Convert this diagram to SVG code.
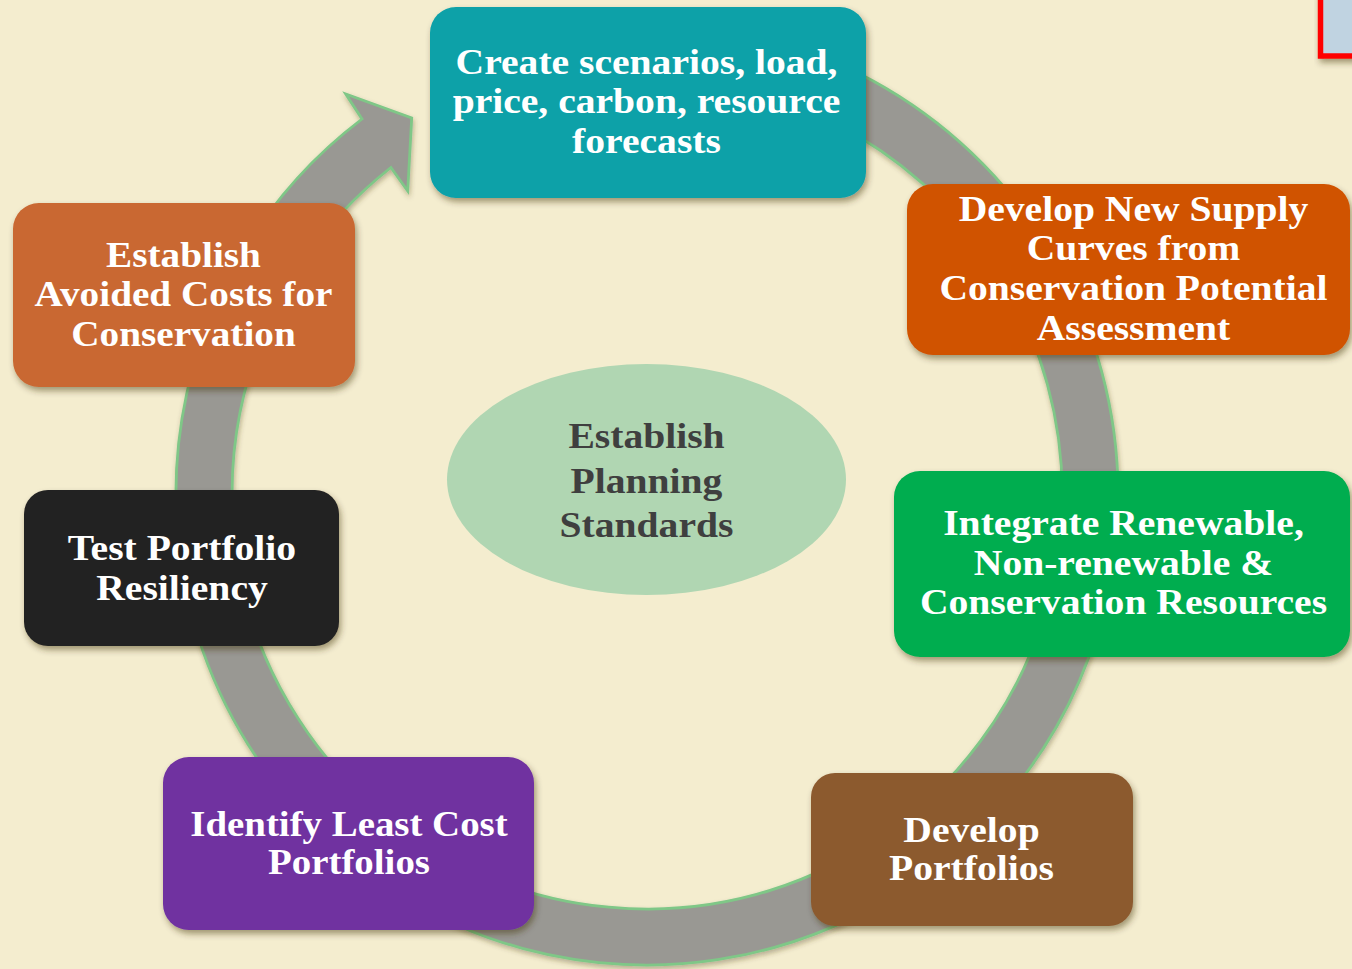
<svg xmlns="http://www.w3.org/2000/svg" width="1352" height="969" viewBox="0 0 1352 969">
  <defs>
    <filter id="shadow" x="-10%" y="-10%" width="125%" height="130%">
      <feDropShadow dx="2" dy="4" stdDeviation="3" flood-color="#3a2a10" flood-opacity="0.45"/>
    </filter>
    <filter id="ringShadow" x="-10%" y="-10%" width="125%" height="125%">
      <feDropShadow dx="1" dy="3" stdDeviation="2.5" flood-color="#4a3a20" flood-opacity="0.35"/>
    </filter>
  </defs>
  <style>
    .box { filter: url(#shadow); }
    .lbl { font-family: "Liberation Serif", "Times New Roman", serif; font-weight: bold; font-size: 36px; fill: #ffffff; text-anchor: middle; }
    .mid { fill: #3f3f3f; }
    .ring { fill: #999893; stroke: #7fc787; stroke-width: 2.8; stroke-linejoin: miter; filter: url(#ringShadow); }
  </style>

  <!-- background -->
  <rect x="0" y="0" width="1352" height="969" fill="#f4edcf"/>

  <!-- corner frame, clipped by the page edge -->
  <rect x="1320.5" y="-10" width="60" height="66" fill="#c0d3e1" stroke="#ff0000" stroke-width="5.5" filter="url(#shadow)"/>

  <!-- connectors: one circular arrow running clockwise back into the first step -->
  <g id="connectors">
    <path class="ring" d="M565.2,30.2 A471,471 0 1 1 362,119 L345.7,94 L411.7,118 L407.7,191 L390.9,167.5 A415,415 0 1 0 574.9,85.3 Z"/>
  </g>

  <!-- centre -->
  <g id="node-standards">
    <ellipse cx="646.5" cy="479.5" rx="199.5" ry="115.5" fill="#b0d6b2"/>
    <g transform="translate(646.5 0) scale(1.1 1)">
      <text class="lbl mid" x="0" y="448">Establish</text>
      <text class="lbl mid" x="0" y="493">Planning</text>
      <text class="lbl mid" x="0" y="537">Standards</text>
    </g>
  </g>

  <g id="node-forecasts">
    <rect class="box" x="430" y="7" width="436" height="191" rx="26" fill="#0aa1a8"/>
    <g transform="translate(646.5 0) scale(1.1 1)">
      <text class="lbl" x="0" y="74">Create scenarios, load,</text>
      <text class="lbl" x="0" y="113.5">price, carbon, resource</text>
      <text class="lbl" x="0" y="153">forecasts</text>
    </g>
  </g>

  <g id="node-supply-curves">
    <rect class="box" x="907" y="184" width="443" height="171" rx="26" fill="#d05305"/>
    <g transform="translate(1133.5 0) scale(1.1 1)">
      <text class="lbl" x="0" y="221">Develop New Supply</text>
      <text class="lbl" x="0" y="260.5">Curves from</text>
      <text class="lbl" x="0" y="300">Conservation Potential</text>
      <text class="lbl" x="0" y="340">Assessment</text>
    </g>
  </g>

  <g id="node-integrate">
    <rect class="box" x="894" y="471" width="456" height="186" rx="26" fill="#00ad4f"/>
    <g transform="translate(1123.5 0) scale(1.1 1)">
      <text class="lbl" x="0" y="535.5">Integrate Renewable,</text>
      <text class="lbl" x="0" y="575">Non-renewable &amp;</text>
      <text class="lbl" x="0" y="614">Conservation Resources</text>
    </g>
  </g>

  <g id="node-develop-portfolios">
    <rect class="box" x="811" y="773" width="322" height="153" rx="24" fill="#8c5a2f"/>
    <g transform="translate(971.5 0) scale(1.1 1)">
      <text class="lbl" x="0" y="842">Develop</text>
      <text class="lbl" x="0" y="880.5">Portfolios</text>
    </g>
  </g>

  <g id="node-least-cost">
    <rect class="box" x="163" y="757" width="371" height="173" rx="26" fill="#7030a0"/>
    <g transform="translate(349 0) scale(1.08 1)">
      <text class="lbl" x="0" y="835.5">Identify Least Cost</text>
      <text class="lbl" x="0" y="874.5">Portfolios</text>
    </g>
  </g>

  <g id="node-resiliency">
    <rect class="box" x="24" y="490" width="315" height="156" rx="24" fill="#222222"/>
    <g transform="translate(182 0) scale(1.1 1)">
      <text class="lbl" x="0" y="560">Test Portfolio</text>
      <text class="lbl" x="0" y="600">Resiliency</text>
    </g>
  </g>

  <g id="node-avoided-costs">
    <rect class="box" x="13" y="203" width="342" height="184" rx="26" fill="#c96831"/>
    <g transform="translate(183.5 0) scale(1.09 1)">
      <text class="lbl" x="0" y="267">Establish</text>
      <text class="lbl" x="0" y="306.5">Avoided Costs for</text>
      <text class="lbl" x="0" y="346.5">Conservation</text>
    </g>
  </g>
</svg>
